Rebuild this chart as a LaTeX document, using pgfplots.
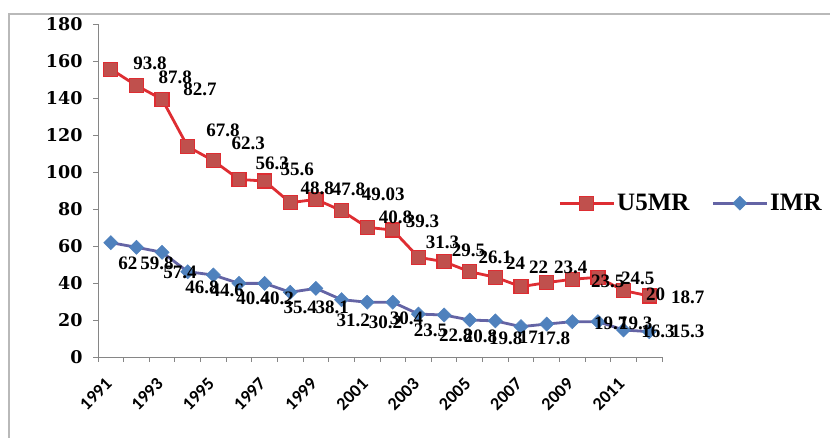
\documentclass[border=0pt]{standalone}
\usepackage{fontspec}
\setmainfont{Liberation Serif}
\newfontfamily\dvs{DejaVu Serif}
\newfontfamily\carl{Carlito}
\usepackage{pgfplots}
\pgfplotsset{compat=1.18}
\usepackage{pgfplotstable}
\definecolor{redline}{RGB}{222,45,50}
\definecolor{redfill}{RGB}{192,80,77}
\definecolor{blueline}{RGB}{100,100,165}
\definecolor{bluefill}{RGB}{79,129,189}
\definecolor{axgray}{RGB}{134,134,134}
\definecolor{bordergray}{RGB}{185,185,185}

\pgfplotstableread{
year u5mr imr
1991 155.6 61.8
1992 146.7 59.3
1993 139.3 56.6
1994 113.7 46.1
1995 106.1 44.3
1996 96.0 39.8
1997 95.1 39.8
1998 83.4 35.0
1999 85.2 37.1
2000 79.1 31.0
2001 70.1 29.6
2002 68.6 29.6
2003 53.9 23.2
2004 51.5 22.7
2005 46.1 20.0
2006 43.1 19.5
2007 38.0 16.4
2008 40.2 17.8
2009 42.0 19.1
2010 43.1 19.1
2011 35.9 14.6
2012 33.0 13.7
}\rates

\pgfplotstableread{
x y label
1992.53 158.9 93.8
1993.51 151.3 87.8
1994.48 144.9 82.7
1995.38 122.7 67.8
1996.36 115.7 62.3
1997.30 104.9 56.3
1998.27 101.6 55.6
1999.05 91.3 48.8
2000.27 90.8 47.8
2001.63 88.1 49.03
2002.10 75.7 40.8
2003.16 73.5 39.3
2003.94 62.2 31.3
2004.95 57.8 29.5
2006.00 54.1 26.1
2006.79 50.8 24
2007.69 48.6 22
2008.94 48.6 23.4
2010.38 41.1 23.5
2011.55 42.7 24.5
2012.25 34.1 20
2013.50 32.4 18.7
}\redlabels

\pgfplotstableread{
x y label
1991.67 50.8 62
1992.80 50.8 59.8
1993.70 45.9 57.4
1994.56 37.8 46.8
1995.54 36.2 44.6
1996.55 31.9 40.4
1997.49 31.9 40.2
1998.39 27.0 35.4
1999.64 27.0 38.1
2000.46 20.0 31.2
2001.71 18.9 30.2
2002.53 21.1 30.4
2003.47 14.6 23.5
2004.45 11.9 22.8
2005.42 11.4 20.8
2006.40 10.3 19.8
2007.29 10.8 17
2008.27 10.3 17.8
2010.50 18.4 19.7
2011.48 18.4 19.3
2012.34 14.1 16.3
2013.50 14.1 15.3
}\bluelabels

\begin{document}
\begin{tikzpicture}[x=1bp,y=1bp]
\path[use as bounding box] (-98,-81) rectangle (732,357);
\draw[bordergray, line width=1.5bp] (-89,-82) -- (-89,343) -- (733,343);
\begin{axis}[
  at={(0,0)}, anchor=south west,
  scale only axis, width=564bp, height=333bp,
  xmin=1990.5, xmax=2012.5, ymin=0, ymax=180,
  axis lines*=left,
  axis line style={axgray, line width=0.8bp},
  tick style={axgray, line width=0.8bp},
  tick align=outside, major tick length=5bp,
  xtick={1990.5,1991.5,...,2012.5}, xticklabels={},
  extra x ticks={1991,1993,1995,1997,1999,2001,2003,2005,2007,2009,2011},
  extra x tick labels={1991,1993,1995,1997,1999,2001,2003,2005,2007,2009,2011},
  extra x tick style={major tick length=0pt, tick style={draw=none},
    xticklabel style={rotate=45, anchor=north east, inner sep=1bp, yshift=-8.5bp, xshift=-17.5bp,
      font=\carl\bfseries\fontsize{18bp}{18bp}\selectfont}},
  ytick={0,20,...,180},
  yticklabel style={font=\dvs\bfseries\fontsize{17.5bp}{17.5bp}\selectfont, xshift=-7bp},
  /pgf/number format/assume math mode=true,
  clip=false,
  legend columns=2,
  legend style={at={(0.816,0.462)}, anchor=west, draw=none, fill=none,
    font=\bfseries\fontsize{25bp}{25bp}\selectfont,
    /tikz/every even column/.append style={column sep=20bp},
    inner xsep=0pt},
  legend image code/.code={\draw[mark repeat=2,mark phase=2,#1] plot coordinates {(0bp,0bp) (27bp,0bp) (54bp,0bp)};},
]
\addplot[redline, line width=2.8bp, mark=square*, mark size=7bp,
  mark options={fill=redfill, draw=redline, line width=1.2bp}] table[x=year,y=u5mr] {\rates};
\addlegendentry{U5MR}
\addplot[blueline, line width=2.8bp, mark=square*, mark size=5bp,
  mark options={fill=bluefill, draw=bluefill, rotate=45, line width=0.5bp}] table[x=year,y=imr] {\rates};
\addlegendentry{IMR}
\addplot[draw=none, mark=none, forget plot, nodes near coords, point meta=explicit symbolic,
  nodes near coords style={anchor=center, inner sep=0pt, text=black,
    font=\bfseries\fontsize{19bp}{19bp}\selectfont}] table[x=x,y=y,meta=label] {\redlabels};
\addplot[draw=none, mark=none, forget plot, nodes near coords, point meta=explicit symbolic,
  nodes near coords style={anchor=center, inner sep=0pt, text=black,
    font=\bfseries\fontsize{19bp}{19bp}\selectfont}] table[x=x,y=y,meta=label] {\bluelabels};
\end{axis}
\end{tikzpicture}
\end{document}
